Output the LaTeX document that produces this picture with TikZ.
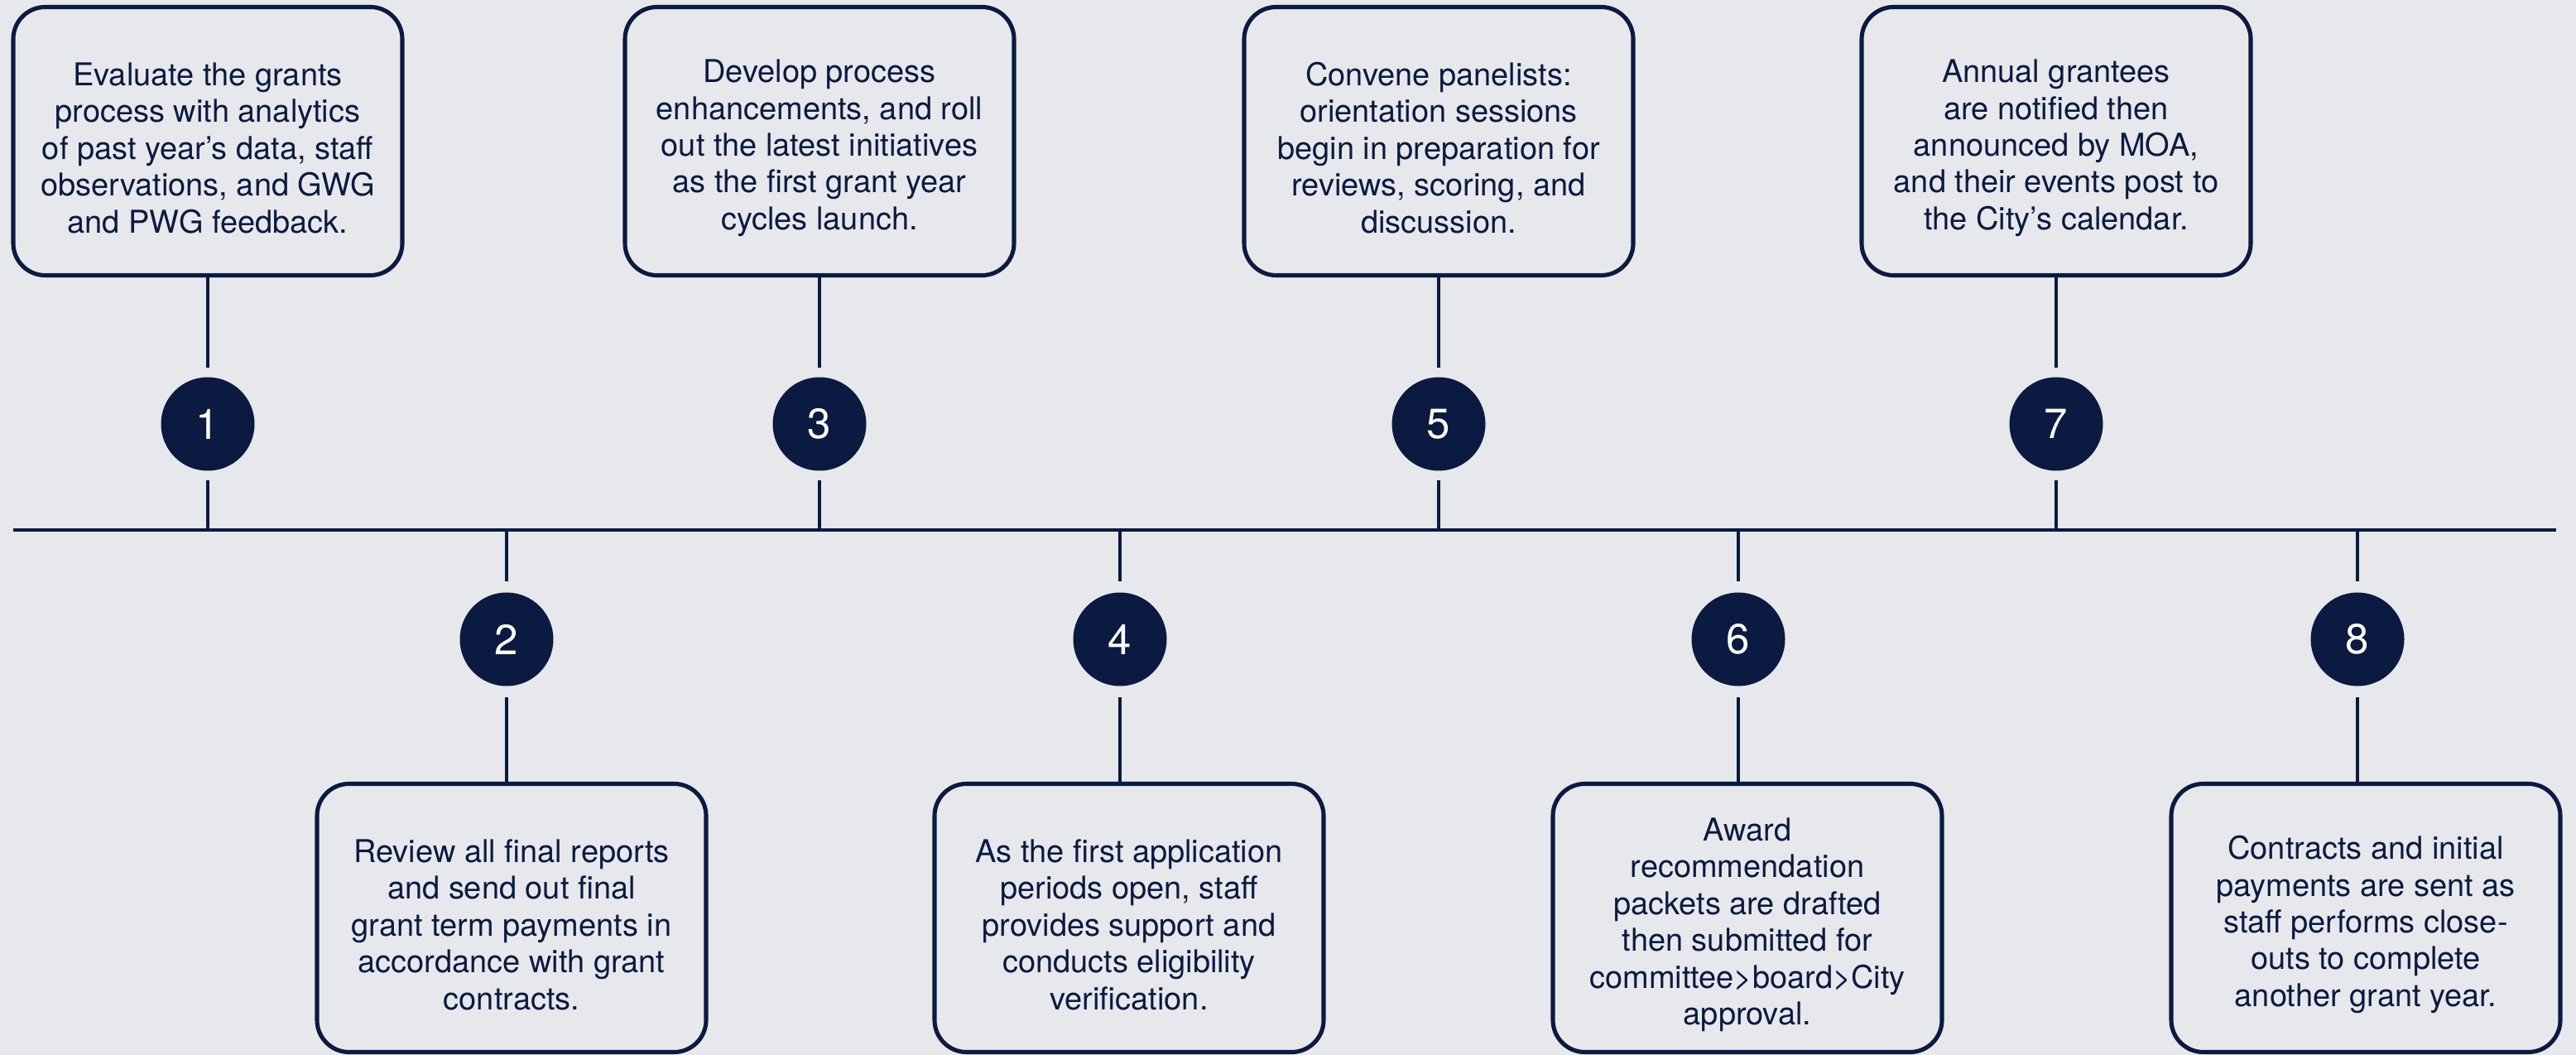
\documentclass[tikz,border=0pt]{standalone}
\usepackage{xcolor}
\usepackage{fontspec}
\setmainfont{TeX Gyre Heros}
\usepackage{tikz}
\definecolor{navy}{HTML}{0A1A40}
\definecolor{paper}{HTML}{E7E8EC}
\newcommand{\cardstrut}{\rule{0pt}{12.6pt}}

\begin{document}
\begin{tikzpicture}[
  stepcard/.style={draw=navy, line width=1.45pt, rounded corners=11pt,
    minimum width=4.70cm, minimum height=3.24cm, inner sep=0pt,
    align=center, text=navy, font=\fontsize{10.8}{12.65}\selectfont},
  stepnum/.style={circle, fill=navy, minimum size=1.13cm, inner sep=0pt,
    text=white, font=\fontsize{14.5}{14.5}\selectfont},
  link/.style={draw=navy, line width=1.3pt},
]
\fill[paper] (0,0) rectangle (31.12,-12.74);
\useasboundingbox (0,0) rectangle (31.12,-12.74);

\coordinate (tlstart) at (0.16,-6.40);
\coordinate (tlend) at (30.88,-6.40);
\draw[link] (tlstart) -- (tlend);

\node[stepcard] (card1) at (2.51,-1.705) {\cardstrut Evaluate the grants\\process with analytics\\of past year’s data, staff\\observations, and GWG\\and PWG feedback.};
\node[stepcard] (card3) at (9.90,-1.705) {\cardstrut Develop process\\enhancements, and roll\\out the latest initiatives\\as the first grant year\\cycles launch.};
\node[stepcard] (card5) at (17.38,-1.705) {\cardstrut Convene panelists:\\orientation sessions\\begin in preparation for\\reviews, scoring, and\\discussion.};
\node[stepcard] (card7) at (24.84,-1.705) {\cardstrut Annual grantees\\are notified then\\announced by MOA,\\and their events post to\\the City’s calendar.};

\node[stepcard] (card2) at (6.18,-11.085) {\cardstrut Review all final reports\\and send out final\\grant term payments in\\accordance with grant\\contracts.};
\node[stepcard] (card4) at (13.64,-11.085) {\cardstrut As the first application\\periods open, staff\\provides support and\\conducts eligibility\\verification.};
\node[stepcard] (card6) at (21.11,-11.085) {\cardstrut Award\\recommendation\\packets are drafted\\then submitted for\\committee>board>City\\approval.};
\node[stepcard] (card8) at (28.58,-11.085) {\cardstrut Contracts and initial\\payments are sent as\\staff performs close-\\outs to complete\\another grant year.};

\node[stepnum] (num1) at (2.51,-5.12) {1};
\node[stepnum] (num3) at (9.90,-5.12) {3};
\node[stepnum] (num5) at (17.38,-5.12) {5};
\node[stepnum] (num7) at (24.84,-5.12) {7};
\node[stepnum] (num2) at (6.12,-7.72) {2};
\node[stepnum] (num4) at (13.53,-7.72) {4};
\node[stepnum] (num6) at (21.00,-7.72) {6};
\node[stepnum] (num8) at (28.48,-7.72) {8};

\coordinate (tick1) at (2.51,-6.40);
\coordinate (tick2) at (6.12,-6.40);
\coordinate (tick3) at (9.90,-6.40);
\coordinate (tick4) at (13.53,-6.40);
\coordinate (tick5) at (17.38,-6.40);
\coordinate (tick6) at (21.00,-6.40);
\coordinate (tick7) at (24.84,-6.40);
\coordinate (tick8) at (28.48,-6.40);

\draw[link, shorten >=0.11cm] (card1.south) -- (num1.north);
\draw[link, shorten <=0.11cm] (num1.south) -- (tick1);
\draw[link, shorten >=0.11cm] (card3.south) -- (num3.north);
\draw[link, shorten <=0.11cm] (num3.south) -- (tick3);
\draw[link, shorten >=0.11cm] (card5.south) -- (num5.north);
\draw[link, shorten <=0.11cm] (num5.south) -- (tick5);
\draw[link, shorten >=0.11cm] (card7.south) -- (num7.north);
\draw[link, shorten <=0.11cm] (num7.south) -- (tick7);

\draw[link, shorten >=0.13cm] (tick2) -- (num2.north);
\draw[link, shorten <=0.13cm] (num2.south) -- (num2.south |- card2.north);
\draw[link, shorten >=0.13cm] (tick4) -- (num4.north);
\draw[link, shorten <=0.13cm] (num4.south) -- (num4.south |- card4.north);
\draw[link, shorten >=0.13cm] (tick6) -- (num6.north);
\draw[link, shorten <=0.13cm] (num6.south) -- (num6.south |- card6.north);
\draw[link, shorten >=0.13cm] (tick8) -- (num8.north);
\draw[link, shorten <=0.13cm] (num8.south) -- (num8.south |- card8.north);
\end{tikzpicture}
\end{document}
